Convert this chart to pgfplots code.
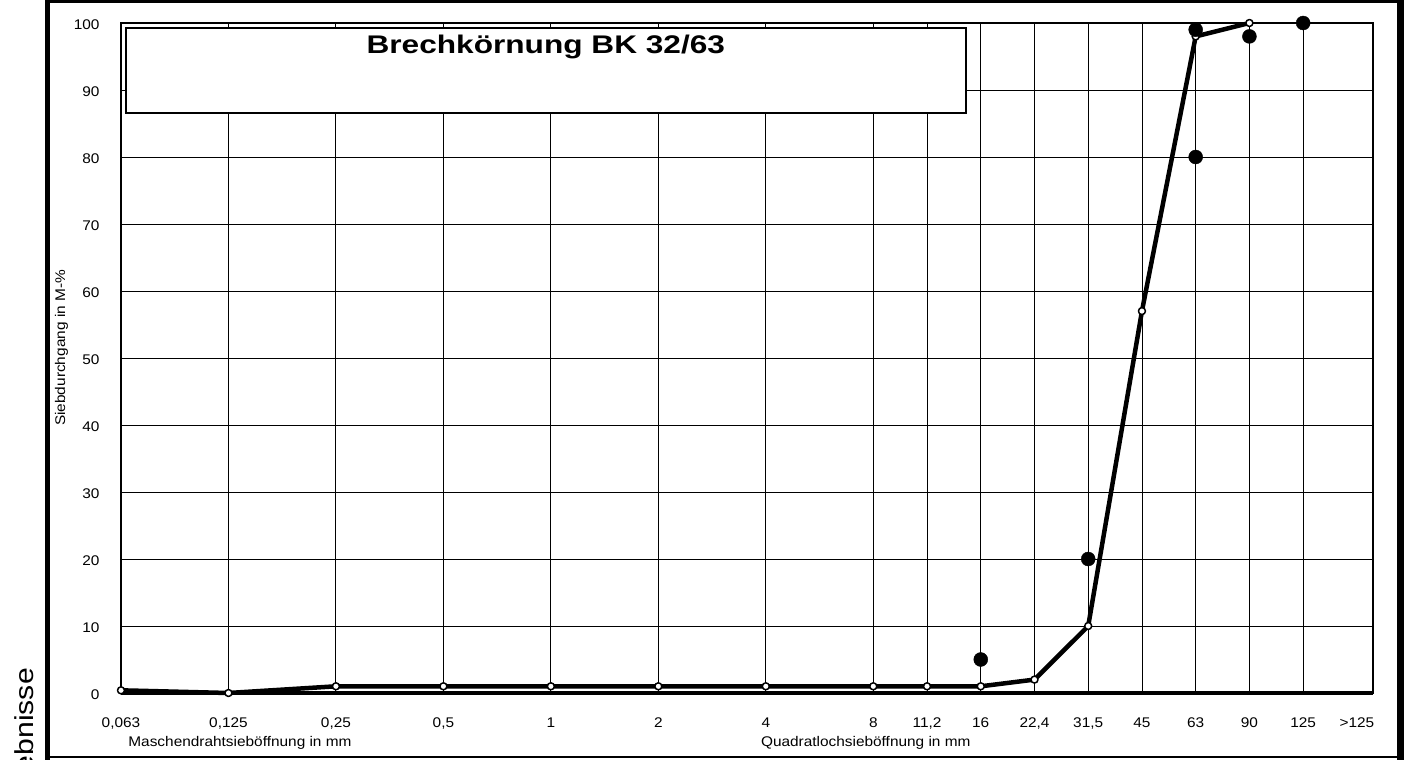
\documentclass[border=0pt]{standalone}
\usepackage{fontspec}
\setmainfont{Liberation Sans}
\usepackage{pgfplots}
\pgfplotsset{compat=1.18}

\newcommand{\smallfnt}{\fontsize{14bp}{17bp}\selectfont\addfontfeature{FakeStretch=1.1}}

\begin{document}
\begin{tikzpicture}[x=1bp,y=1bp]
% outer frame
\draw[line width=5bp] (47bp,0bp) -- (47bp,760bp);
\draw[line width=3.5bp] (45bp,758.5bp) -- (1404bp,758.5bp);
\draw[line width=7bp] (1400.5bp,0bp) -- (1400.5bp,760bp);
\draw[line width=1.5bp] (45bp,3bp) -- (1404bp,3bp);
\node[rotate=90, anchor=base east, inner sep=0pt, font=\fontsize{26bp}{30bp}\selectfont\addfontfeature{FakeStretch=1.16}] at (33bp,92bp) {Ergebnisse};

\begin{axis}[
  at={(121bp,67bp)}, anchor=south west,
  scale only axis, width=1252bp, height=670bp,
  xmin=0, xmax=11.65, ymin=0, ymax=100,
  xtick={0,1,2,3,4,5,6,7,7.5,8,8.5,9,9.5,10,10.5,11},
  xticklabels={{0,063},{0,125},{0,25},{0,5},{1},{2},{4},{8},{11,2},{16},{22,4},{31,5},{45},{63},{90},{125}},
  extra x ticks={11.5},
  extra x tick labels={{>125}},
  extra x tick style={grid=none},
  ytick={0,10,...,100},
  grid=major,
  major grid style={line width=0.9bp, black},
  major tick length=0pt,
  axis line style={line width=1.5bp},
  tick label style={font=\smallfnt},
  /pgf/number format/assume math mode=true,
  xticklabel style={anchor=base, yshift=-34bp},
  yticklabel style={anchor=east, xshift=-18bp, yshift=-2bp},
  clip=false,
]
\draw[line width=4.5bp] (axis cs:0,0) -- (axis cs:11.65,0);
\draw[line width=2.5bp] (axis cs:0,0) -- (axis cs:0,100);
\draw[line width=2bp, fill=white] (axis cs:0.047,86.6) rectangle (axis cs:7.86,99.2);
\node[anchor=base, font=\fontsize{25.5bp}{30bp}\selectfont\bfseries\addfontfeature{FakeStretch=1.24}] at (axis cs:3.953,95.5) {Brechkörnung BK 32/63};

\addplot[line width=4.5bp, line join=round, black,
  mark=*, mark size=3.5bp, mark options={fill=white, draw=black, line width=1.5bp}]
  coordinates {(0,0.4) (1,0) (2,1) (3,1) (4,1) (5,1) (6,1) (7,1) (7.5,1) (8,1) (8.5,2) (9,10) (9.5,57) (10,98) (10.5,100)};

\addplot[only marks, mark=*, mark size=7bp, black, mark options={fill=black}]
  coordinates {(8,5) (9,20) (10,80) (10,99) (10.5,98) (11,100)};

\node[anchor=base, font=\smallfnt] at ([yshift=-53bp]axis cs:1.107,0) {Maschendrahtsieböffnung in mm};
\node[anchor=base, font=\smallfnt] at ([yshift=-53bp]axis cs:6.93,0) {Quadratlochsieböffnung in mm};
\node[rotate=90, anchor=base, font=\smallfnt] at ([xshift=-56bp]axis cs:0,51.5) {Siebdurchgang in M-\%};
\end{axis}
\pgfresetboundingbox
\path[use as bounding box] (0bp,0bp) rectangle (1404bp,760bp);
\end{tikzpicture}
\end{document}
